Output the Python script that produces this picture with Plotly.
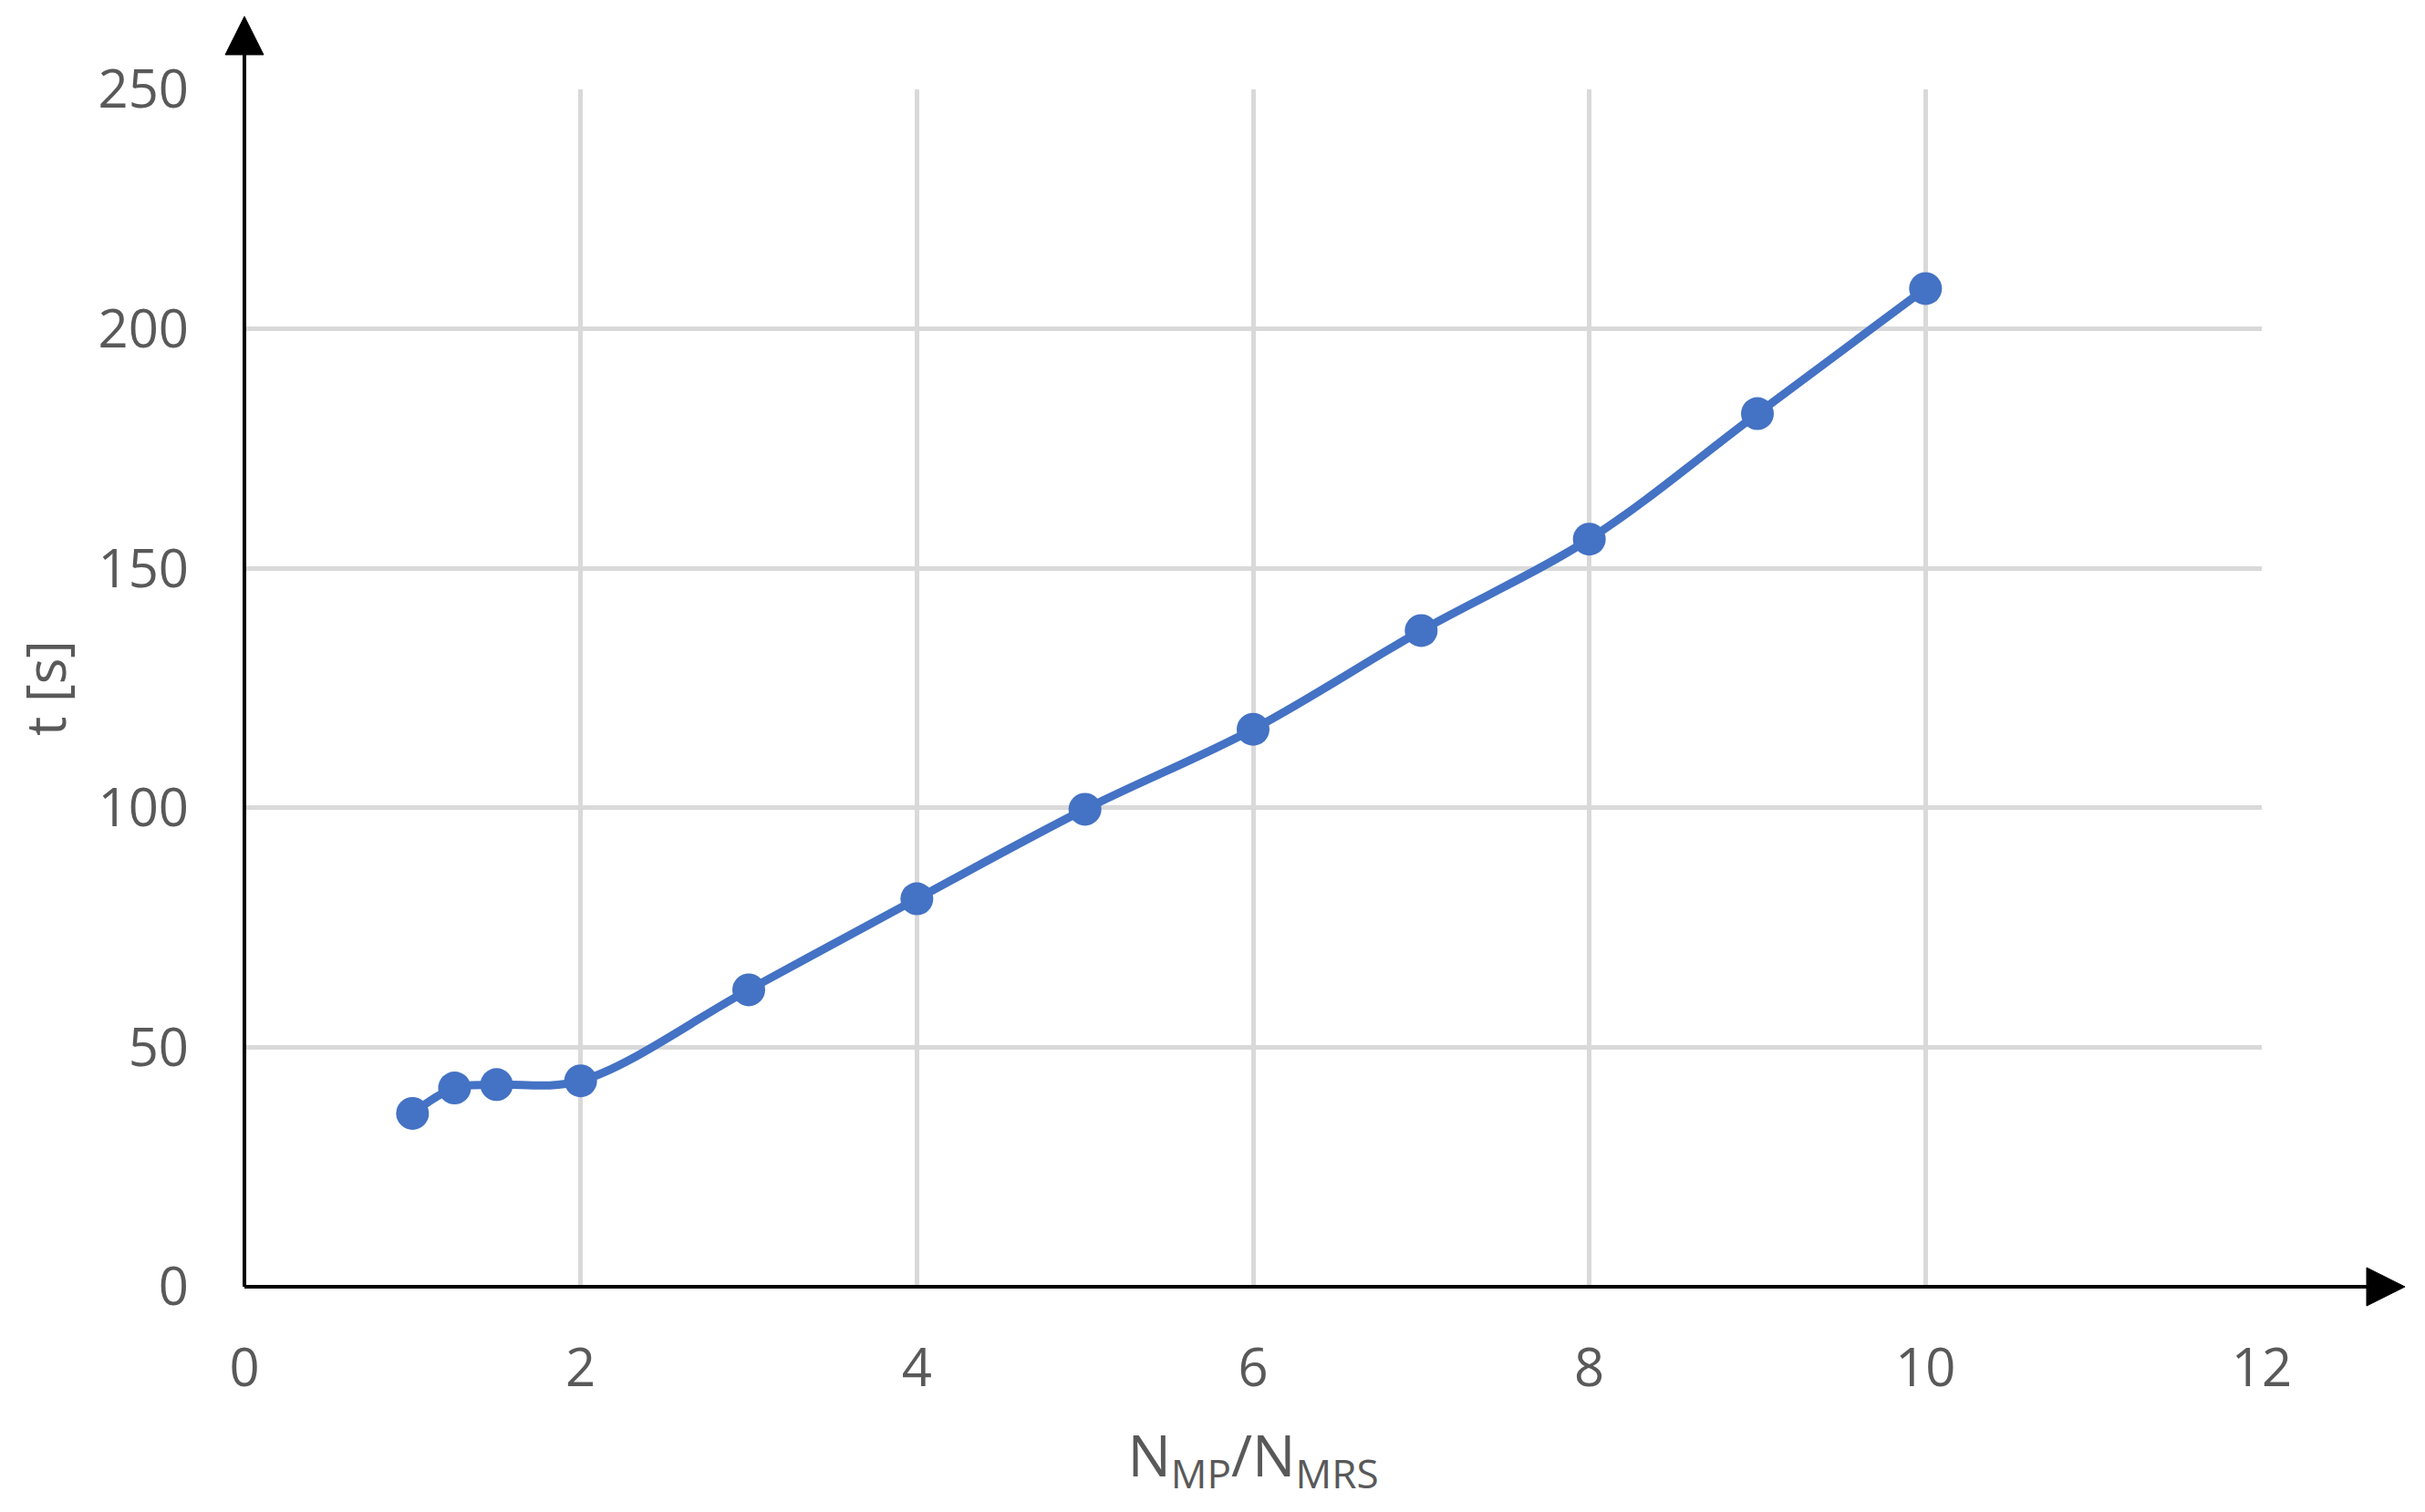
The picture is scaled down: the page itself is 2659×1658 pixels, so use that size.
import plotly.graph_objects as go

# Data
ratio = [1, 1.25, 1.5, 2, 3, 4, 5, 6, 7, 8, 9, 10]
time_s = [36.2, 41.5, 42.2, 43.0, 62.0, 81.0, 99.7, 116.4, 137.0, 156.1, 182.3, 208.4]

x_ticks = [0, 2, 4, 6, 8, 10, 12]
y_ticks = [0, 50, 100, 150, 200, 250]

BLUE = "#4472C4"
GREY_TXT = "#595959"
GRID = "#D9D9D9"
FONT = "Open Sans"

W, H = 2659, 1658
ML, MR, MT, MB = 260, 187, 90, 255
PW, PH = W - ML - MR, H - MT - MB

fig = go.Figure()
fig.add_trace(go.Scatter(
    x=ratio, y=time_s,
    mode="lines+markers",
    line=dict(color=BLUE, width=9, shape="spline", smoothing=1.0),
    marker=dict(color=BLUE, size=36),
    showlegend=False,
    hoverinfo="skip",
))

axis_common = dict(
    showgrid=True, gridcolor=GRID, gridwidth=5,
    zeroline=False, showline=False, ticks="",
    tickfont=dict(family=FONT, size=58, color=GREY_TXT),
)

fig.update_layout(
    width=W, height=H, autosize=False,
    margin=dict(l=ML, r=MR, t=MT, b=MB, pad=0),
    paper_bgcolor="white", plot_bgcolor="white",
    font=dict(family=FONT, color=GREY_TXT),
    xaxis=dict(
        range=[0, 12], tickvals=x_ticks, ticktext=[str(v) for v in x_ticks],
        ticklabelstandoff=50,
        title=dict(text="N<sub>MP</sub>/N<sub>MRS</sub>",
                   font=dict(family=FONT, size=63, color=GREY_TXT), standoff=38),
        **axis_common,
    ),
    yaxis=dict(
        range=[0, 250], tickvals=y_ticks, ticktext=[str(v) for v in y_ticks],
        ticklabelstandoff=60,
        title=dict(text="t [s]", font=dict(family=FONT, size=60, color=GREY_TXT), standoff=30),
        **axis_common,
    ),
)

# Axis lines with arrowheads (decoration, in plot-area fractions)
head_len_px, head_half_px = 42, 21
x_tip = (2637 - 268) / PW
y_tip = (1411 - 18) / PH
x_base = x_tip - head_len_px / PW
y_base = y_tip - head_len_px / PH
hx = head_half_px / PW  # half width in x fraction (for the vertical arrow)
hy = head_half_px / PH  # half width in y fraction (for the horizontal arrow)

line_style = dict(color="black", width=4)
fig.add_shape(type="line", xref="paper", yref="paper", x0=0, y0=0, x1=x_base + 0.002, y1=0,
              line=line_style)
fig.add_shape(type="line", xref="paper", yref="paper", x0=0, y0=0, x1=0, y1=y_base + 0.003,
              line=line_style)
fig.add_shape(type="path", xref="paper", yref="paper",
              path=f"M {x_base} {-hy} L {x_tip} 0 L {x_base} {hy} Z",
              fillcolor="black", line=dict(color="black", width=1))
fig.add_shape(type="path", xref="paper", yref="paper",
              path=f"M {-hx} {y_base} L 0 {y_tip} L {hx} {y_base} Z",
              fillcolor="black", line=dict(color="black", width=1))

fig.write_html("out.html")
